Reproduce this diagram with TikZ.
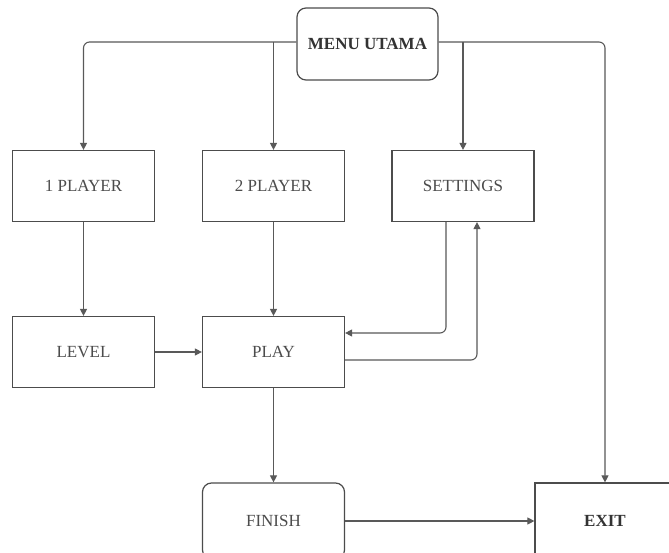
\documentclass[tikz,border=0pt]{standalone}
\usepackage{fontspec}
\setmainfont{Liberation Serif}
\usetikzlibrary{arrows.meta}
\begin{document}
\begin{tikzpicture}[x=1pt,y=-1pt,
  box/.style={draw=black!70,line width=1.2pt,minimum width=142pt,minimum height=71pt,
    inner sep=0pt,font=\fontsize{17}{19}\selectfont,text=black!70},
  rbox/.style={box,rounded corners=9pt},
  link/.style={draw=black!65,line width=1.1pt,rounded corners=6pt,
    -{Triangle[length=7pt,width=7pt]}}]
\useasboundingbox (0,0) rectangle (669,553);
\fill[white] (0,0) rectangle (669,553);
% nodes
\node[rbox,minimum width=141pt,minimum height=72pt,font=\fontsize{17}{19}\selectfont\bfseries,text=black!80] (menu) at (367.5,44) {MENU UTAMA};
\node[box] (p1) at (83.5,186) {1 PLAYER};
\node[box] (p2) at (273.5,186) {2 PLAYER};
\node[box] (set) at (463,186) {SETTINGS};
\node[box] (lvl) at (83.5,352) {LEVEL};
\node[box] (play) at (273.5,352) {PLAY};
\node[rbox,minimum height=76pt] (fin) at (273.5,521) {FINISH};
\node[box,minimum width=140pt,minimum height=76pt,font=\fontsize{17}{19}\selectfont\bfseries,text=black!80] (exit) at (605,521) {EXIT};
% connectors (y axis points down, so a positive yshift moves up)
\coordinate (ml) at ([yshift=2pt]menu.west);
\coordinate (mr) at ([yshift=2pt]menu.east);
\draw[link] (ml) -| (p1.north);
\draw[link] (ml -| p2.north) -- (p2.north);
\draw[link] (mr -| set.north) -- (set.north);
\draw[link] (mr) -| (exit.north);
\draw[link] (p1) -- (lvl);
\draw[link] (p2) -- (play);
\draw[link] (lvl) -- (play);
\draw[link] (play) -- (fin);
\draw[link] (fin) -- (exit);
\draw[link] ([xshift=-17pt]set.south) |- ([yshift=19pt]play.east);
\draw[link] ([yshift=-8pt]play.east) -| ([xshift=14pt]set.south);
\end{tikzpicture}
\end{document}
